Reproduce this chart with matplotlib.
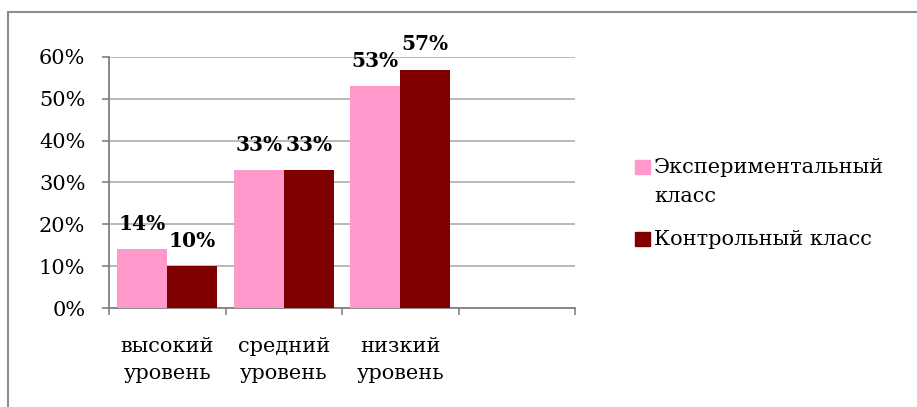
import numpy as np
import matplotlib.pyplot as plt
from matplotlib.patches import Rectangle

categories = ['высокий\nуровень', 'средний\nуровень', 'низкий\nуровень']
exp_vals = [0.14, 0.33, 0.53]
ctrl_vals = [0.10, 0.33, 0.57]
series_names = ['Экспериментальный\nкласс', 'Контрольный класс']
yticks = [0, 0.1, 0.2, 0.3, 0.4, 0.5, 0.6]
ytick_labels = ['0%', '10%', '20%', '30%', '40%', '50%', '60%']

pink = '#FF99CC'
maroon = '#800000'

plt.rcParams['font.family'] = ['DejaVu Serif']
fs = 15

fig = plt.figure(figsize=(9.17, 4.07), dpi=100)
W, H = 917, 407
ax = fig.add_axes([109/W, (H-308)/H, 466/W, 251/H])

x = np.arange(len(categories))
w = 0.43
b1 = ax.bar(x - w/2, exp_vals, w, color=pink, zorder=3)
b2 = ax.bar(x + w/2, ctrl_vals, w, color=maroon, zorder=3)

for bars, vals in [(b1, exp_vals), (b2, ctrl_vals)]:
    for r, v in zip(bars, vals):
        ax.annotate('%d%%' % round(v*100), (r.get_x() + r.get_width()/2, v),
                    xytext=(0, 11), textcoords='offset points',
                    ha='center', va='bottom', fontsize=fs - 0.5, fontweight='bold')

ax.set_xlim(-0.5, 3.5)
ax.set_ylim(0, 0.6)
ax.set_yticks(yticks)
ax.set_yticklabels(ytick_labels, fontsize=fs)
ax.set_xticks(x)
ax.set_xticklabels(categories, fontsize=fs, linespacing=1.5)
ax.set_xticks([-0.5, 0.5, 1.5, 2.5, 3.5], minor=True)
ax.tick_params(axis='x', which='major', length=0, pad=21)
ax.tick_params(axis='x', which='minor', length=5, width=1.2, color='#808080', direction='out')
ax.tick_params(axis='y', length=5, width=1.2, color='#808080', pad=12)

ax.grid(axis='y', color='#b4b4b4', linewidth=1.3, zorder=0)
ax.set_axisbelow(True)
for s in ['top', 'right']:
    ax.spines[s].set_visible(False)
for s in ['left', 'bottom']:
    ax.spines[s].set_color('#808080')
    ax.spines[s].set_linewidth(1.3)

# legend drawn by hand so the swatch sits on the first text line
leg_y = [167, 239]
for col, name, yc in zip([pink, maroon], series_names, leg_y):
    fig.patches.append(Rectangle((635/W, 1 - (yc + 7)/H), 15/W, 14/H,
                                 transform=fig.transFigure, color=col))
    fig.text(654/W, 1 - (yc - 9)/H, name, fontsize=fs, va='top', ha='left',
             linespacing=1.65)

fig.patches.append(Rectangle((8/W, -0.1), 1.2, (H-12)/H + 0.1,
                             transform=fig.transFigure, fill=False,
                             edgecolor='#8c8c8c', linewidth=1.5))

fig.savefig('out.png', dpi=100)
